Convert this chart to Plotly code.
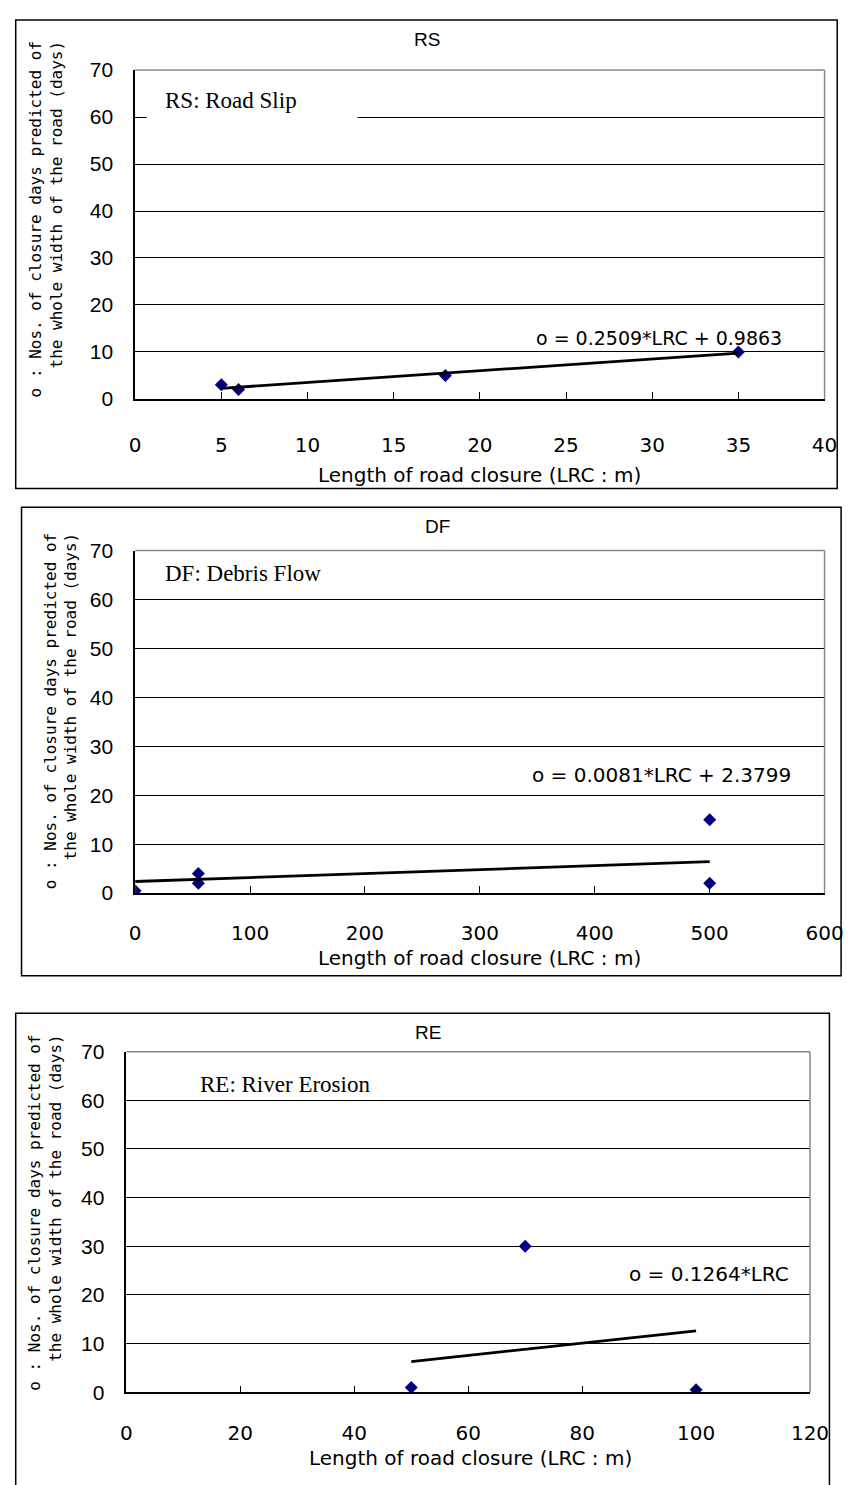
import plotly.graph_objects as go

W, H = 863, 1485

# ---------------- data ----------------
rs_x = [5, 6, 18, 35]
rs_y = [3, 2, 5, 10]
df_x = [0, 55, 55, 500, 500]
df_y = [0.5, 4, 2, 15, 2]
re_x = [50, 70, 100]
re_y = [1, 30, 0.5]

rs_fit = (0.2509, 0.9863)
df_fit = (0.0081, 2.3799)
re_fit = (0.1264, 0.0)

rs_eq = "o = 0.2509*LRC + 0.9863"
df_eq = "o = 0.0081*LRC + 2.3799"
re_eq = "o = 0.1264*LRC"

titles = ["RS", "DF", "RE"]
legend_texts = ["RS: Road Slip", "DF: Debris Flow", "RE: River Erosion"]
y_ticks = [0, 10, 20, 30, 40, 50, 60, 70]
rs_xticks = [0, 5, 10, 15, 20, 25, 30, 35, 40]
df_xticks = [0, 100, 200, 300, 400, 500, 600]
re_xticks = [0, 20, 40, 60, 80, 100, 120]
x_title = "Length of road closure (LRC : m)"
y_title = "o : Nos. of closure days predicted of<br>the whole width of the road (days)"

# ---------------- layout (pixels) ----------------
def px(v):
    return v / W

def py(v):
    return 1 - v / H

panels = [
    dict(xs=rs_x, ys=rs_y, fit=rs_fit, eq=rs_eq, xt=rs_xticks, eqsize=19, standoff=27,
         plot=(133, 59, 843, 393), box=(10, 8, 856, 484),
         title=(434, 28), ytitle=(41, 28), leg=(162, 90), legbox=(145, 74, 362, 112),
         eqpos=(801, 331), xtitle=(488, 470)),
    dict(xs=df_x, ys=df_y, fit=df_fit, eq=df_eq, xt=df_xticks, eqsize=20, standoff=21,
         plot=(133, 547, 843, 895), box=(16, 503, 860, 979),
         title=(444, 523), ytitle=(56, 527), leg=(162, 570), legbox=None,
         eqpos=(810, 775), xtitle=(488, 961)),
    dict(xs=re_x, ys=re_y, fit=re_fit, eq=re_eq, xt=re_xticks, eqsize=20, standoff=22,
         plot=(124, 1056, 828, 1402), box=(10, 1017, 848, 1500),
         title=(435, 1037), ytitle=(40, 1037), leg=(198, 1089), legbox=None,
         eqpos=(808, 1282), xtitle=(478, 1469)),
]

fig = go.Figure()
shapes = []
annotations = []
GOTHIC = "DejaVu Sans"
MONO = "DejaVu Sans Mono"
ARIAL = "Liberation Sans, Arial"

for i, p in enumerate(panels):
    n = "" if i == 0 else str(i + 1)
    xa, ya = "x" + n, "y" + n
    l, t, r, b = p["plot"]
    xt = p["xt"]
    fig.add_trace(go.Scatter(
        x=p["xs"], y=p["ys"], mode="markers", xaxis=xa, yaxis=ya,
        marker=dict(symbol="diamond", size=10, color="#000080"),
        showlegend=False, hoverinfo="skip"))
    a, c = p["fit"]
    x0, x1 = min(p["xs"]), max(p["xs"])
    fig.add_trace(go.Scatter(
        x=[x0, x1], y=[a * x0 + c, a * x1 + c], mode="lines", xaxis=xa, yaxis=ya,
        line=dict(color="black", width=2.8), showlegend=False, hoverinfo="skip"))

    fig.update_layout(**{
        "xaxis" + n: dict(
            domain=[px(l), px(r)], range=[xt[0], xt[-1]], anchor=ya,
            tickvals=xt, showgrid=False, zeroline=False,
            showline=True, linecolor="black", linewidth=1.5,
            ticks="inside", ticklen=7, tickcolor="black", tickwidth=1,
            ticklabelstandoff=p["standoff"],
            tickfont=dict(family=GOTHIC, size=20, color="black")),
        "yaxis" + n: dict(
            domain=[py(b), py(t)], range=[0, 70], anchor=xa,
            tickvals=y_ticks, showgrid=True, gridcolor="black", gridwidth=1,
            zeroline=False, showline=True, linecolor="black", linewidth=1.5,
            ticks="", ticklabelstandoff=16,
            tickfont=dict(family=ARIAL, size=21, color="black")),
    })

    # plot area top and right border (gray)
    shapes.append(dict(type="line", xref="paper", yref="paper",
                       x0=px(l), x1=px(r), y0=py(t), y1=py(t),
                       line=dict(color="#888888", width=1.5), layer="above"))
    shapes.append(dict(type="line", xref="paper", yref="paper",
                       x0=px(r), x1=px(r), y0=py(t), y1=py(b),
                       line=dict(color="#888888", width=1.5), layer="above"))
    # outer chart border
    bl, bt, br, bb = p["box"]
    shapes.append(dict(type="rect", xref="paper", yref="paper",
                       x0=px(bl), x1=px(br), y0=py(bb), y1=py(bt),
                       line=dict(color="black", width=1.5), layer="above"))
    if p["legbox"]:
        ll, lt, lr, lb = p["legbox"]
        shapes.append(dict(type="rect", xref="paper", yref="paper",
                           x0=px(ll), x1=px(lr), y0=py(lb), y1=py(lt),
                           line=dict(width=0), fillcolor="white", layer="above"))

    annotations.append(dict(text=titles[i], x=px(p["title"][0]), y=py(p["title"][1]),
                            xref="paper", yref="paper", showarrow=False,
                            xanchor="center", yanchor="middle",
                            font=dict(family=ARIAL, size=19, color="black")))
    annotations.append(dict(text=y_title, x=px(p["ytitle"][0]), y=py(p["ytitle"][1]),
                            xref="paper", yref="paper", showarrow=False,
                            textangle=-90, align="right",
                            xanchor="center", yanchor="top",
                            font=dict(family=MONO, size=16, color="black")))
    annotations.append(dict(text=legend_texts[i], x=px(p["leg"][0]), y=py(p["leg"][1]),
                            xref="paper", yref="paper", showarrow=False,
                            xanchor="left", yanchor="middle",
                            font=dict(family="Liberation Serif, Times New Roman", size=23,
                                      color="black")))
    annotations.append(dict(text=p["eq"], x=px(p["eqpos"][0]), y=py(p["eqpos"][1]),
                            xref="paper", yref="paper", showarrow=False,
                            xanchor="right", yanchor="middle",
                            font=dict(family=GOTHIC, size=p["eqsize"], color="black")))
    annotations.append(dict(text=x_title, x=px(p["xtitle"][0]), y=py(p["xtitle"][1]),
                            xref="paper", yref="paper", showarrow=False,
                            xanchor="center", yanchor="middle",
                            font=dict(family=GOTHIC, size=20, color="black")))

fig.update_layout(
    width=W, height=H, margin=dict(l=0, r=0, t=0, b=0),
    paper_bgcolor="white", plot_bgcolor="white",
    shapes=shapes, annotations=annotations, showlegend=False,
)

fig.write_html("out.html")
